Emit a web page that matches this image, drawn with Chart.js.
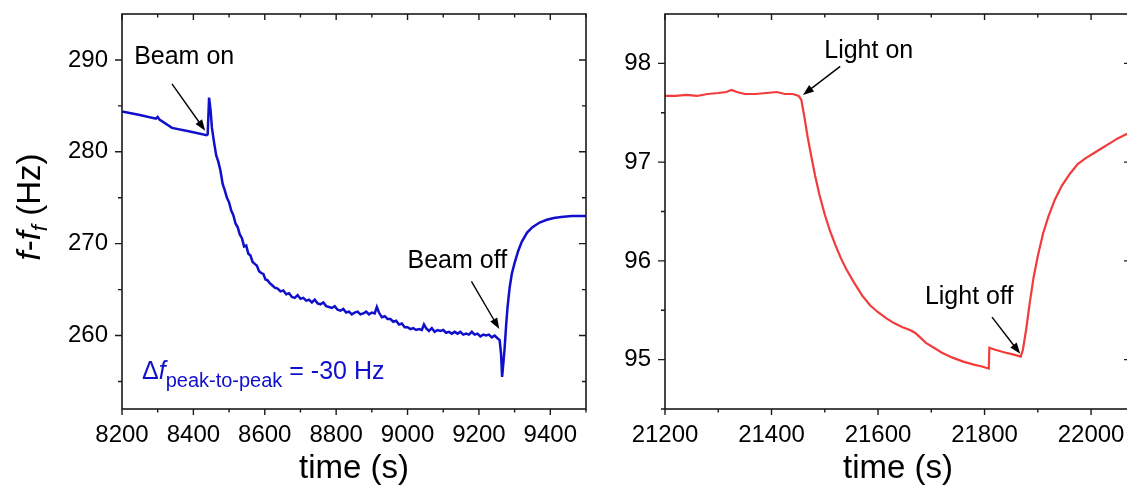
<!DOCTYPE html>
<html>
<head>
<meta charset="utf-8">
<script src="https://cdn.jsdelivr.net/npm/chart.js@4.4.1/dist/chart.umd.min.js"></script>
<style>
  html, body { margin: 0; padding: 0; background: #fff; overflow: hidden; }
  body { width: 1127px; height: 491px; position: relative; }
  #leftBox { position: absolute; left: 0; top: 0; width: 600px; height: 491px; }
  #rightBox { position: absolute; left: 600px; top: 0; width: 540px; height: 491px; }
</style>
</head>
<body>
<div id="leftBox"><canvas id="beamChart" width="600" height="491"></canvas></div>
<div id="rightBox"><canvas id="lightChart" width="540" height="491"></canvas></div>
<script>
// left panel: beam on / off (time in s, f - f_f in Hz)
const beamTime = [8200, 8250, 8295, 8300, 8305, 8340, 8390, 8437, 8440, 8444, 8448, 8452, 8458, 8464, 8470, 8476, 8482, 8488, 8494, 8500,
  8506, 8512, 8518, 8524, 8530, 8536, 8542, 8548, 8554, 8560, 8566, 8572, 8578, 8584, 8590, 8596, 8602, 8608, 8614, 8620,
  8628, 8636, 8644, 8652, 8660, 8668, 8676, 8684, 8692, 8700, 8708, 8716, 8724, 8732, 8740, 8748, 8756, 8764, 8772, 8780,
  8788, 8796, 8804, 8812, 8820, 8828, 8836, 8844, 8852, 8860, 8868, 8876, 8884, 8892, 8900, 8908, 8914, 8920, 8928, 8936,
  8944, 8952, 8960, 8968, 8976, 8984, 8992, 9000, 9008, 9016, 9024, 9032, 9040, 9046, 9052, 9060, 9068, 9076, 9084, 9092,
  9100, 9108, 9116, 9124, 9132, 9140, 9148, 9156, 9164, 9172, 9180, 9188, 9196, 9204, 9212, 9220, 9228, 9236, 9244, 9252,
  9258, 9262, 9265, 9268, 9272, 9276, 9280, 9286, 9292, 9300, 9310, 9320, 9335, 9350, 9370, 9390, 9410, 9430, 9460, 9500];
const beamFreq = [284.4, 284.0, 283.6, 283.8, 283.5, 282.6, 282.2, 281.8, 281.9, 285.9, 284.6, 282.6, 281.0, 279.6, 278.9, 277.9, 276.5, 275.8, 275.0, 274.5,
  273.6, 273.1, 272.2, 271.8, 271.0, 270.6, 269.7, 269.8, 268.9, 268.7, 268.0, 267.8, 267.6, 267.0, 266.8, 266.7, 266.1, 266.0, 265.7, 265.5,
  265.2, 265.1, 264.8, 264.9, 264.5, 264.6, 264.2, 264.1, 264.4, 264.0, 264.1, 263.8, 263.9, 263.6, 263.9, 263.5, 263.4, 263.6, 263.2, 263.1,
  263.0, 263.2, 262.8, 262.7, 262.9, 262.5, 262.6, 262.3, 262.5, 262.6, 262.3, 262.4, 262.6, 262.3, 262.5, 262.4, 263.1, 262.5, 262.0, 262.1,
  261.8, 261.8, 261.5, 261.6, 261.2, 261.3, 260.9, 260.9, 260.7, 260.8, 260.6, 260.7, 260.6, 261.2, 260.8, 260.5, 260.8, 260.4, 260.6, 260.5,
  260.6, 260.3, 260.4, 260.2, 260.4, 260.2, 260.4, 260.1, 260.2, 260.1, 260.4, 260.1, 260.2, 259.9, 260.1, 260.0, 260.1, 259.8, 260.0, 259.7,
  259.5, 258.0, 255.5, 256.8, 258.6, 261.0, 263.0, 265.2, 266.7, 267.9, 269.2, 270.2, 271.2, 271.8, 272.3, 272.6, 272.8, 272.9, 273.0, 273.0];

// right panel: light on / off
const lightTime = [21200, 21220, 21240, 21260, 21280, 21300, 21315, 21325, 21335, 21350, 21370, 21390, 21410, 21425, 21440, 21451, 21456, 21462, 21468, 21475,
  21482, 21490, 21500, 21510, 21520, 21530, 21540, 21555, 21570, 21585, 21600, 21615, 21630, 21645, 21660, 21670, 21678, 21690, 21705, 21720,
  21740, 21760, 21780, 21795, 21808, 21809, 21820, 21840, 21855, 21868, 21872, 21878, 21885, 21892, 21900, 21910, 21920, 21932, 21945, 21960,
  21975, 21990, 22005, 22020, 22035, 22050, 22065, 22075];
const lightFreq = [97.67, 97.67, 97.68, 97.67, 97.69, 97.70, 97.71, 97.73, 97.71, 97.69, 97.69, 97.70, 97.71, 97.69, 97.69, 97.67, 97.63, 97.45, 97.25, 97.05,
  96.86, 96.67, 96.47, 96.30, 96.16, 96.03, 95.92, 95.78, 95.65, 95.55, 95.48, 95.42, 95.37, 95.33, 95.30, 95.27, 95.23, 95.17, 95.12, 95.07,
  95.02, 94.98, 94.95, 94.93, 94.91, 95.12, 95.10, 95.07, 95.05, 95.03, 95.10, 95.30, 95.58, 95.83, 96.05, 96.28, 96.45, 96.62, 96.76, 96.88,
  96.98, 97.04, 97.09, 97.14, 97.19, 97.24, 97.28, 97.30];

// tick values
const beamTimeTicks = [8200, 8400, 8600, 8800, 9000, 9200, 9400];
const beamTimeMinor = [8300, 8500, 8700, 8900, 9100, 9300, 9500];
const beamFreqTicks = [260, 270, 280, 290];
const beamFreqMinor = [255, 265, 275, 285];
const lightTimeTicks = [21200, 21400, 21600, 21800, 22000];
const lightTimeMinor = [21300, 21500, 21700, 21900];
const lightFreqTicks = [95, 96, 97, 98];
const lightFreqMinor = [94.5, 95.5, 96.5, 97.5];

const FONT = '"Liberation Sans", Arial, sans-serif';
const BLUE = '#1010cc';
const RED = '#f23b3b';

function arrow(ctx, x1, y1, x2, y2) {
  const a = Math.atan2(y2 - y1, x2 - x1);
  const L = 11, W = 4;
  ctx.beginPath();
  ctx.moveTo(x1, y1);
  ctx.lineTo(x2 - L * 0.8 * Math.cos(a), y2 - L * 0.8 * Math.sin(a));
  ctx.stroke();
  ctx.beginPath();
  ctx.moveTo(x2, y2);
  ctx.lineTo(x2 - L * Math.cos(a) + W * Math.sin(a), y2 - L * Math.sin(a) - W * Math.cos(a));
  ctx.lineTo(x2 - L * Math.cos(a) - W * Math.sin(a), y2 - L * Math.sin(a) + W * Math.cos(a));
  ctx.closePath();
  ctx.fill();
}

// text made of several runs (italic, subscript ...)
function runsWidth(ctx, runs) {
  let w = 0;
  runs.forEach(r => { ctx.font = r.font; w += ctx.measureText(r.text).width; });
  return w;
}
function drawRuns(ctx, runs, x, y) {
  runs.forEach(r => {
    ctx.font = r.font;
    ctx.fillText(r.text, x, y + (r.dy || 0));
    x += ctx.measureText(r.text).width;
  });
}

// frame, mirrored ticks and arrow notes
function makeFrame(id, ticks, notes) {
  return {
    id: id,
    afterDraw(chart) {
      const {ctx, chartArea: a, scales: {x, y}} = chart;
      ctx.save();
      ctx.strokeStyle = '#1a1a1a';
      ctx.lineWidth = 1.6;
      ctx.strokeRect(a.left, a.top, a.right - a.left, a.bottom - a.top);
      ctx.lineWidth = 1.4;
      ctx.beginPath();
      const xt = (vals, len) => vals.forEach(v => {
        const p = x.getPixelForValue(v);
        ctx.moveTo(p, a.bottom); ctx.lineTo(p, a.bottom + len);
        ctx.moveTo(p, a.top); ctx.lineTo(p, a.top + len);
      });
      const yt = (vals, len) => vals.forEach(v => {
        const p = y.getPixelForValue(v);
        ctx.moveTo(a.left - len, p); ctx.lineTo(a.left, p);
        ctx.moveTo(a.right - len, p); ctx.lineTo(a.right, p);
      });
      xt(ticks.x, 6); xt(ticks.xm, 3.5);
      yt(ticks.y, 7); yt(ticks.ym, 4);
      ctx.stroke();

      ctx.fillStyle = '#000';
      ctx.strokeStyle = '#000';
      ctx.lineWidth = 1.4;
      ctx.textAlign = 'left';
      ctx.textBaseline = 'middle';
      notes.forEach(n => {
        ctx.font = '25px ' + FONT;
        ctx.fillText(n.text, x.getPixelForValue(n.at[0]), y.getPixelForValue(n.at[1]));
        arrow(ctx, x.getPixelForValue(n.from[0]), y.getPixelForValue(n.from[1]),
          x.getPixelForValue(n.to[0]), y.getPixelForValue(n.to[1]));
      });
      ctx.restore();
    }
  };
}

// y title and the peak-to-peak note of the left panel
const beamExtras = {
  id: 'beamExtras',
  afterDraw(chart) {
    const {ctx, scales: {x, y}} = chart;
    ctx.save();
    ctx.textAlign = 'left';
    ctx.textBaseline = 'alphabetic';

    const title = [
      {text: 'f', font: 'italic 33px ' + FONT},
      {text: '-', font: '33px ' + FONT},
      {text: 'f', font: 'italic 33px ' + FONT},
      {text: 'f', font: 'italic 22px ' + FONT, dy: 7},
      {text: ' (Hz)', font: '33px ' + FONT}
    ];
    ctx.translate(28, 207);
    ctx.rotate(-Math.PI / 2);
    ctx.fillStyle = '#000';
    drawRuns(ctx, title, -runsWidth(ctx, title) / 2, 12);
    ctx.setTransform(1, 0, 0, 1, 0, 0);

    const note = [
      {text: 'Δ', font: '25px ' + FONT},
      {text: 'f', font: 'italic 25px ' + FONT},
      {text: 'peak-to-peak', font: '20px ' + FONT, dy: 8},
      {text: ' = -30 Hz', font: '25px ' + FONT}
    ];
    ctx.fillStyle = BLUE;
    drawRuns(ctx, note, x.getPixelForValue(8256), y.getPixelForValue(255.3));
    ctx.restore();
  }
};

function axes(xMin, xMax, xTicks, yMin, yMax, yTicks, yWidth) {
  return {
    x: {
      type: 'linear', min: xMin, max: xMax,
      afterBuildTicks: s => { s.ticks = xTicks.map(v => ({value: v})); },
      afterFit: s => { s.height = 82; s.paddingLeft = 0; s.paddingRight = 0; },
      grid: {display: false, drawTicks: false},
      border: {display: false},
      ticks: {
        autoSkip: false, maxRotation: 0, padding: 12, color: '#000',
        font: {family: FONT, size: 24},
        callback: v => String(v)
      },
      title: {display: true, text: 'time (s)', color: '#000', font: {family: FONT, size: 33}, padding: {top: 0, bottom: 2}}
    },
    y: {
      type: 'linear', min: yMin, max: yMax,
      afterBuildTicks: s => { s.ticks = yTicks.map(v => ({value: v})); },
      afterFit: s => { s.width = yWidth; s.paddingTop = 0; s.paddingBottom = 0; },
      grid: {display: false, drawTicks: false},
      border: {display: false},
      ticks: {
        autoSkip: false, padding: 14, color: '#000',
        font: {family: FONT, size: 24},
        callback: v => String(v)
      }
    }
  };
}

new Chart(document.getElementById('beamChart'), {
  type: 'scatter',
  data: {
    datasets: [{
      data: beamTime.map((t, i) => ({x: t, y: beamFreq[i]})),
      showLine: true,
      borderColor: BLUE,
      borderWidth: 2.5,
      pointRadius: 0,
      tension: 0
    }]
  },
  options: {
    responsive: false,
    animation: false,
    layout: {padding: {left: 0, top: 14, right: 14, bottom: 0}},
    plugins: {legend: {display: false}, tooltip: {enabled: false}},
    scales: axes(8200, 9500, beamTimeTicks, 252, 295, beamFreqTicks, 122)
  },
  plugins: [
    makeFrame('beamFrame', {x: beamTimeTicks, xm: beamTimeMinor, y: beamFreqTicks, ym: beamFreqMinor}, [
      {text: 'Beam on', at: [8234, 290.3], from: [8340, 287.4], to: [8433, 282.3]},
      {text: 'Beam off', at: [9000, 268.1], from: [9179, 265.9], to: [9257, 260.7]}
    ]),
    beamExtras
  ]
});

new Chart(document.getElementById('lightChart'), {
  type: 'scatter',
  data: {
    datasets: [{
      data: lightTime.map((t, i) => ({x: t, y: lightFreq[i]})),
      showLine: true,
      borderColor: RED,
      borderWidth: 2.2,
      pointRadius: 0,
      tension: 0
    }]
  },
  options: {
    responsive: false,
    animation: false,
    layout: {padding: {left: 0, top: 14, right: 9, bottom: 0}},
    plugins: {legend: {display: false}, tooltip: {enabled: false}},
    scales: axes(21200, 22075, lightTimeTicks, 94.5, 98.5, lightFreqTicks, 65)
  },
  plugins: [
    makeFrame('lightFrame', {x: lightTimeTicks, xm: lightTimeMinor, y: lightFreqTicks, ym: lightFreqMinor}, [
      {text: 'Light on', at: [21499, 98.12], from: [21529, 97.97], to: [21459, 97.68]},
      {text: 'Light off', at: [21688, 95.63], from: [21814, 95.43], to: [21867, 95.06]}
    ])
  ]
});
</script>
</body>
</html>
